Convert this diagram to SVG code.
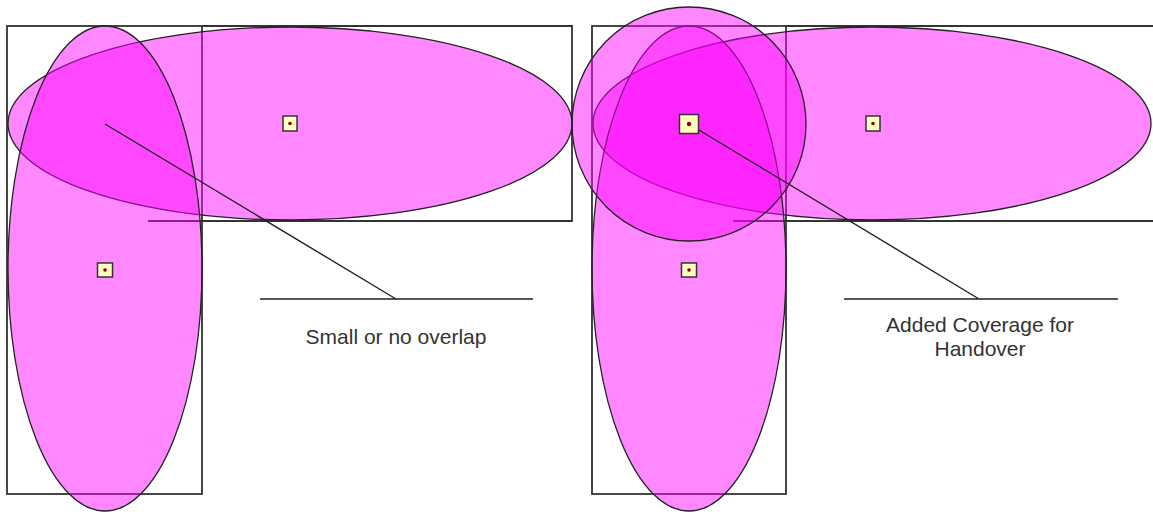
<svg xmlns="http://www.w3.org/2000/svg" width="1153" height="512" viewBox="0 0 1153 512">
<style>
.area{fill:none;stroke:#333;stroke-width:1.8}
.cell{fill:#ff00ff;fill-opacity:0.47;stroke:#222;stroke-width:1.3}
.lead{fill:none;stroke:#222;stroke-width:1.4}
.bs{fill:#ffffc0;stroke:#333;stroke-width:1.5}
.dot{fill:#8b0000}
.lbl{font-family:"Liberation Sans",Arial,sans-serif;font-size:21px;fill:#333;text-anchor:middle}
</style>
<rect width="1153" height="512" fill="#fff"/>
<g id="areas">
<rect class="area" x="7" y="26" width="195" height="468"/>
<path class="area" d="M202 26H572V221H148"/>
<rect class="area" x="592" y="26" width="194" height="468"/>
<path class="area" d="M786 26H1155M1155 221H733"/>
</g>
<g id="cell-left-h"><ellipse class="cell" cx="290" cy="123.5" rx="282" ry="96.5"/></g>
<g id="cell-left-v"><ellipse class="cell" cx="105" cy="268.5" rx="97" ry="242.5"/></g>
<g id="cell-right-h"><ellipse class="cell" cx="872" cy="123.5" rx="279" ry="96.5"/></g>
<g id="cell-right-v"><ellipse class="cell" cx="689" cy="268.5" rx="97" ry="242.5"/></g>
<g id="cell-right-circle"><circle class="cell" cx="689" cy="124" r="117"/></g>
<g id="connectors">
<path class="lead" d="M105 124L396 299M260 299H533"/>
<path class="lead" d="M689 124L979 299M844 299H1118"/>
</g>
<g id="bs-left-h"><rect class="bs" x="283" y="116" width="14" height="15"/><circle class="dot" cx="290" cy="123.5" r="1.8"/></g>
<g id="bs-left-v"><rect class="bs" x="97.5" y="263" width="15" height="14"/><circle class="dot" cx="105" cy="270" r="1.8"/></g>
<g id="bs-right-h"><rect class="bs" x="866" y="116" width="14" height="15"/><circle class="dot" cx="873" cy="123.5" r="1.8"/></g>
<g id="bs-right-v"><rect class="bs" x="681.5" y="263" width="15" height="14"/><circle class="dot" cx="689" cy="270" r="1.8"/></g>
<g id="bs-right-big"><rect class="bs" x="679.5" y="114.5" width="19" height="19"/><circle class="dot" cx="689" cy="124" r="2.2"/></g>
<g id="label-left"><text class="lbl" x="396" y="344">Small or no overlap</text></g>
<g id="label-right"><text class="lbl" x="980" y="332">Added Coverage for</text><text class="lbl" x="980" y="356">Handover</text></g>
</svg>
